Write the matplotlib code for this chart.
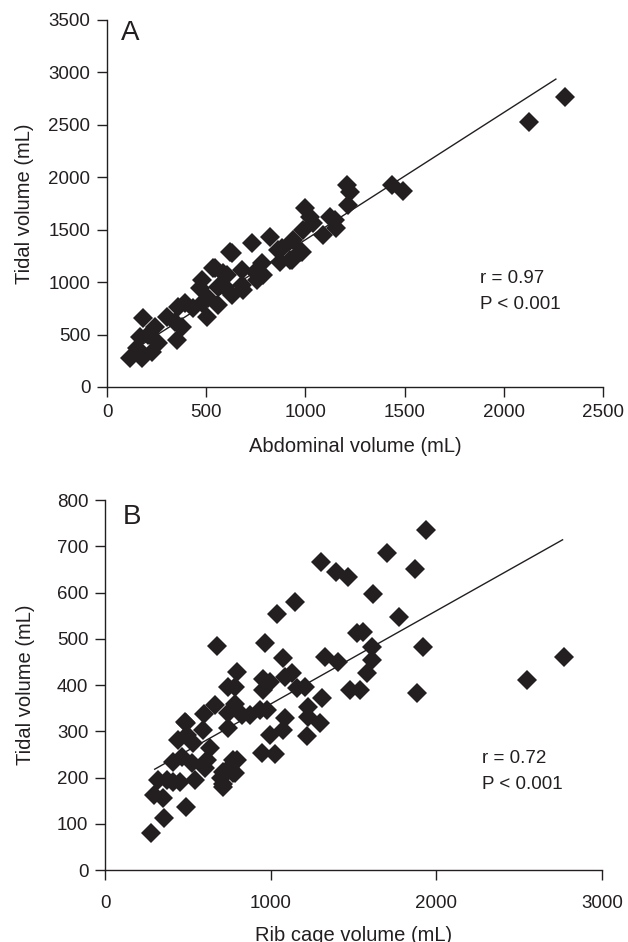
import matplotlib.pyplot as plt

# Panel A: abdominal volume vs tidal volume (mL)
abd_x = [116, 175, 150, 225, 183, 166, 208, 242, 259, 351, 301, 343, 376, 359, 393,
         435, 477, 502, 511, 561, 469, 477, 544, 561, 595, 603, 628, 679, 679, 620,
         729, 780, 788, 746, 755, 687, 586, 536, 628, 822, 863, 872, 922, 939, 973,
         880, 931, 981, 989, 998, 1023, 1040, 1090, 1124, 1149, 1154, 1208, 1225,
         1216, 1435, 1490, 2129, 2308]
abd_tv = [273, 273, 369, 337, 655, 480, 496, 575, 417, 448, 670, 623, 575, 765, 798,
          750, 798, 670, 846, 782, 941, 1020, 1132, 956, 956, 1068, 1275, 1115, 972, 1290,
          1370, 1179, 1068, 1099, 1020, 925, 1084, 1132, 877, 1433, 1306, 1195, 1211, 1401, 1290,
          1322, 1211, 1290, 1497, 1703, 1624, 1560, 1449, 1624, 1592, 1513, 1926, 1862,
          1735, 1926, 1868, 2529, 2767]
fit_a_x = [120, 2263]
fit_a_y = [336, 2936]

# Panel B: rib cage volume vs tidal volume (mL)
rc_x = [278, 358, 489, 298, 352, 322, 372, 412, 453, 543, 412, 463, 523, 443, 493,
        533, 486, 593, 597, 664, 744, 785, 785, 744, 744, 825, 875, 634, 613, 603,
        714, 703, 714, 795, 785, 754, 966, 1072, 1328, 1408, 1609, 1609, 1579, 1479,
        1539, 795, 955, 996, 955, 1086, 1127, 1157, 1207, 935, 976, 1086, 1076, 996,
        1227, 1308, 1227, 1297, 1221, 946, 1026, 774, 774, 714, 1937, 1700, 1871, 1304,
        1394, 1465, 1616, 1776, 1519, 1559, 1921, 1885, 2545, 2772, 1147, 1036, 674,
        483]
rc_tv = [80, 112, 136, 162, 155, 195, 195, 191, 191, 195, 234, 245, 231, 281, 292,
         274, 317, 303, 337, 357, 396, 396, 360, 339, 306, 335, 335, 263, 238, 220,
         212, 198, 180, 238, 209, 223, 490, 458, 461, 450, 483, 454, 425, 389,
         389, 429, 414, 407, 389, 418, 425, 393, 396, 346, 346, 328, 303, 292,
         353, 371, 331, 317, 290, 252, 251, 238, 209, 187, 735, 686, 650, 667,
         645, 633, 596, 548, 513, 515, 483, 382, 411, 461, 580, 554, 485,
         321]
fit_b_x = [300, 2762]
fit_b_y = [218, 714]

plt.rcParams['font.family'] = ['Liberation Sans', 'DejaVu Sans']
ink = '#231f20'

fig = plt.figure(figsize=(6.28, 9.42), dpi=100)
ax1 = fig.add_axes([0.1704, 0.5892, 0.7896, 0.3896])
ax2 = fig.add_axes([0.1672, 0.0764, 0.7914, 0.3928])


def style(ax):
    for side in ['top', 'right']:
        ax.spines[side].set_visible(False)
    for side in ['left', 'bottom']:
        ax.spines[side].set_color(ink)
        ax.spines[side].set_linewidth(1.0)
    ax.tick_params(direction='out', length=7, width=1.0, colors=ink,
                   labelsize=13.5, pad=5)


ax1.plot(fit_a_x, fit_a_y, color=ink, lw=1.0, zorder=2)
ax1.plot(abd_x, abd_tv, 'D', color=ink, ms=10, mew=0, zorder=3)
ax1.set_xlim(0, 2500)
ax1.set_ylim(0, 3500)
ax1.set_xticks(range(0, 2501, 500))
ax1.set_yticks(range(0, 3501, 500))
ax1.set_xlabel('Abdominal volume (mL)', fontsize=14.5, color=ink, labelpad=12)
ax1.set_ylabel('Tidal volume (mL)', fontsize=14.5, color=ink, labelpad=10)
ax1.text(0.028, 1.0, 'A', transform=ax1.transAxes, fontsize=20, color=ink,
         va='top')
ax1.text(0.752, 0.32, 'r = 0.97\nP < 0.001', transform=ax1.transAxes,
         fontsize=13.5, color=ink, linespacing=1.73, va='top')
style(ax1)

ax2.plot(fit_b_x, fit_b_y, color=ink, lw=1.0, zorder=2)
ax2.plot(rc_x, rc_tv, 'D', color=ink, ms=10, mew=0, zorder=3)
ax2.set_xlim(0, 3000)
ax2.set_ylim(0, 800)
ax2.set_xticks(range(0, 3001, 1000))
ax2.set_yticks(range(0, 801, 100))
ax2.set_xlabel('Rib cage volume (mL)', fontsize=14.5, color=ink, labelpad=10)
ax2.set_ylabel('Tidal volume (mL)', fontsize=14.5, color=ink, labelpad=16)
ax2.text(0.035, 0.99, 'B', transform=ax2.transAxes, fontsize=20, color=ink,
         va='top')
ax2.text(0.759, 0.325, 'r = 0.72\nP < 0.001', transform=ax2.transAxes,
         fontsize=13.5, color=ink, linespacing=1.73, va='top')
style(ax2)
ax2.tick_params(axis='x', pad=11)

fig.savefig('out.png', dpi=100)
